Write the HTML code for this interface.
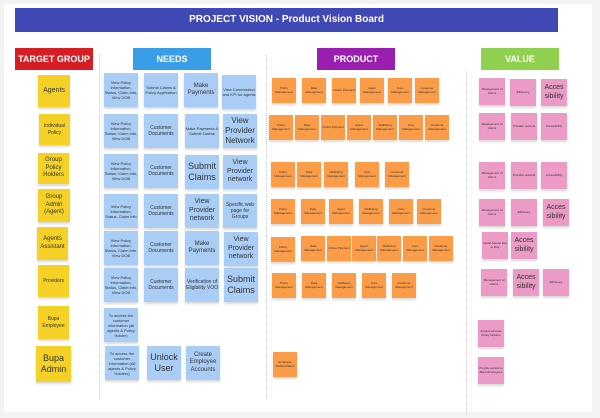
<!DOCTYPE html><html><head><style>
body{margin:0;width:600px;height:418px;background:#f3f3f3;position:relative;overflow:hidden;font-family:"Liberation Sans",sans-serif}
.b{position:absolute;left:4px;top:4px;width:588px;height:408px;background:#fff}
.t{position:absolute;left:15px;top:8px;width:543px;height:24px;background:#3f48b4;color:#fff;font-weight:bold;font-size:10px;text-align:center;line-height:24px}
.h{position:absolute;top:48px;width:78px;height:22px;color:#fff;font-weight:bold;font-size:9px;text-align:center;line-height:22px;white-space:nowrap}
.s{position:absolute;top:55px;height:345px;border-left:1px dotted #ccc}
.n{position:absolute;display:flex;align-items:center;justify-content:center;text-align:center;font-size:4px;line-height:1.25;color:#333;box-shadow:0 2px 2px rgba(0,0,0,.15);overflow:hidden}
.y{background:#f5d128;font-size:7px}
.u{background:#a9cdf5;width:34px;height:34px}
.o{background:#fb9c48;width:24px;height:25px;font-size:3px}
.p{background:#ec9ac6;width:26px;height:27px;font-size:3px}
.L{font-size:8px}
</style></head><body>
<div class="b"></div>
<div class="t">PROJECT VISION - Product Vision Board</div>
<div class="h" style="left:15px;background:#d61d24">TARGET GROUP</div>
<div class="h" style="left:133px;background:#3a9de8">NEEDS</div>
<div class="h" style="left:317px;background:#9a1fb0">PRODUCT</div>
<div class="h" style="left:481px;background:#8fd14f">VALUE</div>
<div class="s" style="left:99px"></div><div class="s" style="left:266px"></div><div class="s" style="left:466px;top:70px"></div>

<div class="n y" style="left:38px;top:75px;width:32px;height:32px">Agents</div>
<div class="n y" style="left:39px;top:114px;width:31px;height:31px;font-size:5px">Individual Policy</div>
<div class="n y" style="left:38px;top:153px;width:31px;height:31px;font-size:6px">Group Policy Holders</div>
<div class="n y" style="left:38px;top:189px;width:32px;height:33px;font-size:6px">Group Admin (Agent)</div>
<div class="n y" style="left:37px;top:227px;width:31px;height:33px;font-size:6px">Agents Assistant</div>
<div class="n y" style="left:38px;top:265px;width:31px;height:32px;font-size:5px">Providers</div>
<div class="n y" style="left:38px;top:306px;width:31px;height:33px;font-size:5px">Bupa Employee</div>
<div class="n y" style="left:36px;top:346px;width:35px;height:36px;font-size:9px">Bupa Admin</div>

<div class="n u" style="left:104px;top:73px">View Policy Information, Status, Claim Info, View DOB</div>
<div class="n u" style="left:144px;top:73px">Submit Claims &amp; Policy Application</div>
<div class="n u L" style="left:184px;top:73px;font-size:6px">Make Payments</div>
<div class="n u" style="left:222px;top:75px">View Commission and KPI for agents</div>
<div class="n u" style="left:104px;top:114px">View Policy Information, Status, Claim Info, View DOB</div>
<div class="n u" style="left:144px;top:114px;font-size:5px">Customer Documents</div>
<div class="n u" style="left:185px;top:114px">Make Payments &amp; Submit Claims</div>
<div class="n u L" style="left:223px;top:114px">View Provider Network</div>
<div class="n u" style="left:104px;top:154px">View Policy Information, Status, Claim Info, View DOB</div>
<div class="n u" style="left:144px;top:154px;font-size:5px">Customer Documents</div>
<div class="n u L" style="left:185px;top:155px;font-size:9px">Submit Claims</div>
<div class="n u L" style="left:223px;top:155px;font-size:7px">View Provider network</div>
<div class="n u" style="left:104px;top:194px">View Policy Information, Status, Claim Info</div>
<div class="n u" style="left:144px;top:194px;font-size:5px">Customer Documents</div>
<div class="n u L" style="left:185px;top:194px;font-size:7px">View Provider network</div>
<div class="n u" style="left:223px;top:194px;font-size:5px">Specific web page for Groups</div>
<div class="n u" style="left:104px;top:231px">View Policy Information, Status, Claim Info, View DOB</div>
<div class="n u" style="left:144px;top:231px;font-size:5px">Customer Documents</div>
<div class="n u" style="left:185px;top:231px;font-size:6px">Make Payments</div>
<div class="n u" style="left:224px;top:232px;font-size:7px">View Provider network</div>
<div class="n u" style="left:104px;top:268px">View Policy Information, Status, Claim Info, View DOB</div>
<div class="n u" style="left:144px;top:268px;font-size:5px">Customer Documents</div>
<div class="n u" style="left:185px;top:268px;font-size:5px">Verification of Eligibility VOO</div>
<div class="n u" style="left:224px;top:268px;font-size:9px">Submit Claims</div>
<div class="n u" style="left:104px;top:308px">To access the customer information (all agents &amp; Policy Holder)</div>
<div class="n u" style="left:105px;top:346px">To access the customer information (All agents &amp; Policy Holders)</div>
<div class="n u" style="left:147px;top:346px;font-size:9px">Unlock User</div>
<div class="n u" style="left:186px;top:346px;font-size:6px">Create Employee Accounts</div>

<div class="n o" style="left:272px;top:78px">Policy Management</div><div class="n o" style="left:302px;top:78px">Data Management</div><div class="n o" style="left:332px;top:78px">Online Payment</div><div class="n o" style="left:360px;top:78px">Agent Management</div><div class="n o" style="left:388px;top:78px">Core Management</div><div class="n o" style="left:415px;top:78px">Customer Management</div>
<div class="n o" style="left:269px;top:115px">Policy Management</div><div class="n o" style="left:295px;top:115px">Data Management</div><div class="n o" style="left:321px;top:115px">Online Payment</div><div class="n o" style="left:347px;top:115px">Agent Management</div><div class="n o" style="left:373px;top:115px">Wellbeing Management</div><div class="n o" style="left:399px;top:115px">Core Management</div><div class="n o" style="left:425px;top:115px">Customer Management</div>
<div class="n o" style="left:271px;top:162px">Policy Management</div><div class="n o" style="left:297px;top:162px">Data Management</div><div class="n o" style="left:324px;top:162px">Wellbeing Management</div><div class="n o" style="left:355px;top:162px">Core Management</div><div class="n o" style="left:385px;top:162px">Customer Management</div>
<div class="n o" style="left:271px;top:199px">Policy Management</div><div class="n o" style="left:301px;top:199px">Data Management</div><div class="n o" style="left:329px;top:199px">Agent Management</div><div class="n o" style="left:359px;top:199px">Wellbeing Management</div><div class="n o" style="left:389px;top:199px">Core Management</div><div class="n o" style="left:417px;top:199px">Customer Management</div>
<div class="n o" style="left:271px;top:237px">Policy Management</div><div class="n o" style="left:301px;top:236px">Data Management</div><div class="n o" style="left:327px;top:236px">Online Payment</div><div class="n o" style="left:352px;top:236px">Agent Management</div><div class="n o" style="left:377px;top:236px">Wellbeing Management</div><div class="n o" style="left:403px;top:236px">Core Management</div><div class="n o" style="left:429px;top:236px">Customer Management</div>
<div class="n o" style="left:272px;top:273px">Policy Management</div><div class="n o" style="left:302px;top:273px">Data Management</div><div class="n o" style="left:332px;top:273px">Wellbeing Management</div><div class="n o" style="left:362px;top:273px">Core Management</div><div class="n o" style="left:392px;top:273px">Customer Management</div>
<div class="n o" style="left:273px;top:352px">Employee Authentication</div>

<div class="n p" style="left:479px;top:78px">Management of claims</div><div class="n p" style="left:510px;top:79px">Efficiency</div><div class="n p" style="left:541px;top:79px;font-size:7px">Acces sibility</div>
<div class="n p" style="left:479px;top:113px">Management of claims</div><div class="n p" style="left:511px;top:113px">Provider network</div><div class="n p" style="left:541px;top:113px">Accessibility</div>
<div class="n p" style="left:479px;top:162px">Management of claims</div><div class="n p" style="left:511px;top:162px">Provider network</div><div class="n p" style="left:541px;top:162px">Accessibility</div>
<div class="n p" style="left:479px;top:199px">Management of claims</div><div class="n p" style="left:511px;top:199px">Efficiency</div><div class="n p" style="left:543px;top:199px;font-size:7px">Acces sibility</div>
<div class="n p" style="left:482px;top:232px">Assist Agents Day to Day</div><div class="n p" style="left:511px;top:232px;font-size:7px">Acces sibility</div>
<div class="n p" style="left:481px;top:269px">Management of claims</div><div class="n p" style="left:513px;top:269px;font-size:7px">Acces sibility</div><div class="n p" style="left:543px;top:269px">Efficiency</div>
<div class="n p" style="left:478px;top:320px">Instant services Policy Holders</div>
<div class="n p" style="left:478px;top:357px">Provide access to Bupa Employees</div>
</body></html>
